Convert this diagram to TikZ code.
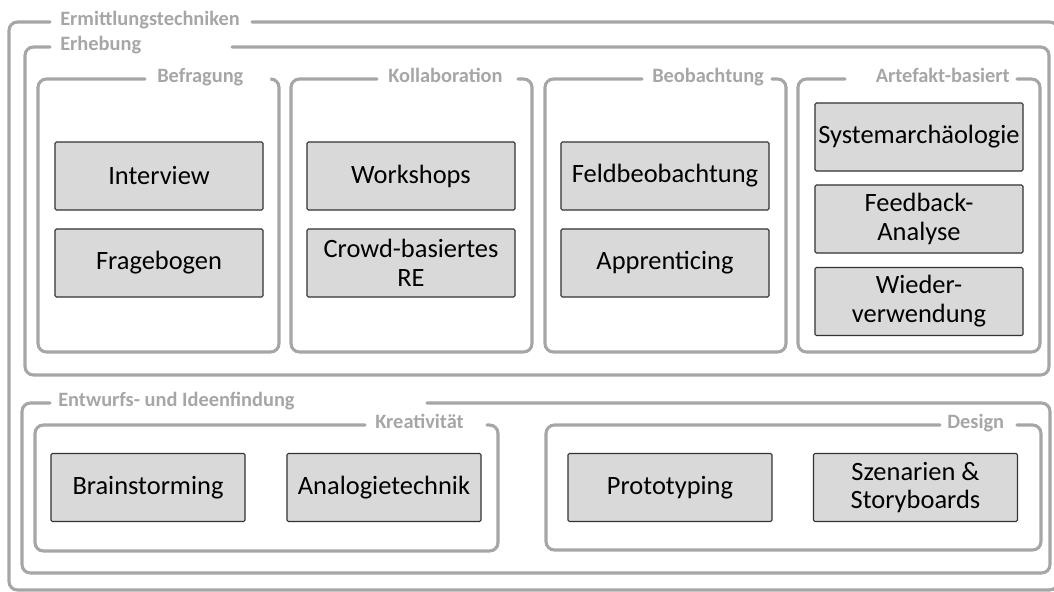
\documentclass[tikz,border=0pt]{standalone}
\usepackage{fontspec}
\setmainfont{Carlito}
\usepackage{tikz}
\usetikzlibrary{positioning}

\definecolor{framegray}{HTML}{A6A6A6}
\definecolor{boxgray}{HTML}{D9D9D9}

\begin{document}
\begin{tikzpicture}[x=0.025cm, y=-0.025cm]
    \useasboundingbox (0,0) rectangle (1054,592);

    \tikzstyle{frame} = [draw=framegray, line width=2.2pt, rounded corners=6pt, line cap=round]
    \tikzstyle{caption} = [text=framegray, font=\bfseries\fontsize{14.5}{16}\selectfont, inner sep=0pt]
    \tikzstyle{technik} = [draw=black!80, fill=boxgray, line width=0.8pt, rounded corners=1pt,
        minimum width=5.2cm, minimum height=1.7cm, align=center, inner sep=2pt,
        font=\fontsize{18.8}{20.5}\selectfont]

    % frames: left/top/right/bottom/gap start/gap end
    \foreach \l/\t/\r/\b/\gs/\ge in {9/22/1058/590/50/252, 25/47/1049/375/50/232,
            38/79/279/352/145/271, 291/79/532/352/377/518, 545/79/786/352/642/772,
            798/79/1040/352/845/1017, 22/403/1050/573/50/427,
            35/425/498/551/365/487, 546/425/1041/550/940/1017} {
        \draw[frame] (\ge,\t) -- (\r,\t) -- (\r,\b) -- (\l,\b) -- (\l,\t) -- (\gs,\t);
    }

    \node[caption, anchor=mid west] (ermittlung) at (60,22) {Ermittlungstechniken};
    \node[caption, anchor=mid west] (erhebung) at (60,47) {Erhebung};
    \node[caption, anchor=mid west] (befragung) at (157,79) {Befragung};
    \node[caption, anchor=mid west] (kollaboration) at (388,79) {Kollaboration};
    \node[caption, anchor=mid west] (beobachtung) at (652,79) {Beobachtung};
    \node[caption, anchor=mid east] (artefakt) at (1010,79) {Artefakt-basiert};
    \node[caption, anchor=mid west] (entwurf) at (58,403) {Entwurfs- und Ideenfindung};
    \node[caption, anchor=mid west] (kreativ) at (375,425) {Kreativität};
    \node[caption, anchor=mid west] (design) at (947,425) {Design};

    % Erhebung
    \node[technik] (interview) at (159,176) {Interview};
    \node[technik] (fragebogen) at (159,263) {Fragebogen};
    \node[technik] (workshops) at (411,176) {Workshops};
    \node[technik] (crowd) at (411,263) {Crowd-basiertes\\RE};
    \node[technik] (feld) at (665,176) {Feldbeobachtung};
    \node[technik] (apprentice) at (665,263) {Apprenticing};
    \node[technik] (archaeo) at (919,137) {Systemarchäologie};
    \node[technik] (feedback) at (919,219) {Feedback-\\Analyse};
    \node[technik] (wieder) at (919,301.5) {Wieder-\\verwendung};

    % Entwurfs- und Ideenfindung
    \node[technik, minimum width=4.85cm] (brainstorm) at (148,487.5) {Brainstorming};
    \node[technik, minimum width=4.85cm] (analogie) at (384,487.5) {Analogietechnik};
    \node[technik, minimum width=5.1cm] (proto) at (670,487.5) {Prototyping};
    \node[technik, minimum width=5.1cm] (szenario) at (915.5,487.5) {Szenarien \&\\Storyboards};
\end{tikzpicture}
\end{document}
